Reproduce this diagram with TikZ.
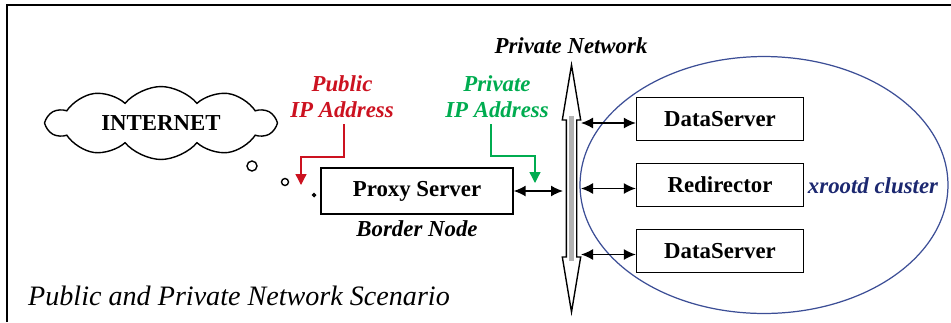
\documentclass[tikz,border=0pt]{standalone}
\usepackage{fontspec}
\setmainfont{Liberation Serif}
\usepackage{xcolor}
\usetikzlibrary{shapes.symbols,shapes.arrows,shapes.geometric,arrows.meta,positioning}
\definecolor{pubred}{RGB}{204,18,32}
\definecolor{privgreen}{RGB}{0,172,80}
\definecolor{clustnavy}{RGB}{28,40,112}
\definecolor{ellblue}{RGB}{60,78,150}
\tikzset{
  box/.style={draw, fill=white, line width=0.8pt, minimum width=3.34cm, minimum height=0.86cm, font=\fontsize{13}{15}\selectfont\bfseries},
  lbl/.style={font=\fontsize{13}{15}\selectfont\bfseries\itshape, align=center},
  dbl/.style={{Latex[length=2.4mm,width=2.2mm]}-{Latex[length=2.4mm,width=2.2mm]}, line width=0.8pt},
  ipline/.style={line width=0.75pt, -{Triangle[length=2.2mm,width=2.2mm]}},
  bubble/.style={circle, draw, line width=0.8pt, inner sep=0pt}
}
\begin{document}
\begin{tikzpicture}[x=0.02cm, y=-0.02cm]
\useasboundingbox (0,0) rectangle (951,322);
\draw[line width=0.9pt] (7,322) -- (7,5) -- (951,5);
\node[cloud, draw, line width=0.8pt, cloud puffs=10, cloud puff arc=100, aspect=3.3, minimum width=4.55cm, minimum height=1.3cm, inner sep=0pt, font=\fontsize{13}{15}\selectfont\bfseries] (internet) at (161,123) {INTERNET};
\node[bubble, minimum size=0.2cm] (b1) at (252,166) {};
\node[bubble, minimum size=0.14cm] (b2) at (285,182) {};
\node[bubble, minimum size=0.06cm, fill=gray] (b3) at (314,195) {};
\node[lbl, text=pubred] (pubip) at (342,97) {Public\\IP Address};
\node[lbl, text=privgreen] (privip) at (497,97) {Private\\IP Address};
\node[lbl] (privnet) at (571,46) {Private Network};
\node[box, minimum width=3.84cm, minimum height=0.92cm] (proxy) at (417,191) {Proxy Server};
\node[lbl, below=0pt of proxy] (border) {Border Node};
\node[ellipse, draw=ellblue, line width=0.7pt, minimum width=7.36cm, minimum height=5.14cm] (cluster) at (764,185) {};
\node[box] (ds1) at (720,119) {DataServer};
\node[box] (redir) at (720,185) {Redirector};
\node[box] (ds2) at (720,251) {DataServer};
\node[lbl, text=clustnavy] (xrd) at (873,186) {xrootd cluster};
\node[double arrow, draw, fill=white, rotate=90, line width=0.8pt, inner xsep=0pt, inner ysep=0.09cm, double arrow head extend=0.08cm, double arrow tip angle=19, minimum height=4.94cm] (bus) at (571.5,188.5) {};
\fill[gray!60] (569,116) rectangle (574,261);
\coordinate (busL) at (563,191);
\coordinate (busR) at (581,191);
\coordinate (pubtip) at (301,185);
\coordinate (privtip) at (535,183);
\draw[ipline, pubred] ([xshift=0.04cm]pubip.south) |- ([yshift=0.56cm]pubtip) -- (pubtip);
\draw[ipline, privgreen] ([xshift=-0.12cm]privip.south) |- ([yshift=0.54cm]privtip) -- (privtip);
\draw[dbl] (proxy.east) -- (busL);
\draw[dbl] ([yshift=-0.08cm]ds1.west) -- ([yshift=-0.08cm]ds1.west -| busR);
\draw[dbl] ([yshift=-0.07cm]redir.west) -- ([yshift=-0.07cm]redir.west -| busR);
\draw[dbl] ([yshift=-0.07cm]ds2.west) -- ([yshift=-0.07cm]ds2.west -| busR);
\node[font=\fontsize{16}{18}\selectfont\itshape, anchor=west] (scenario) at (22,296) {Public and Private Network Scenario};
\end{tikzpicture}
\end{document}
